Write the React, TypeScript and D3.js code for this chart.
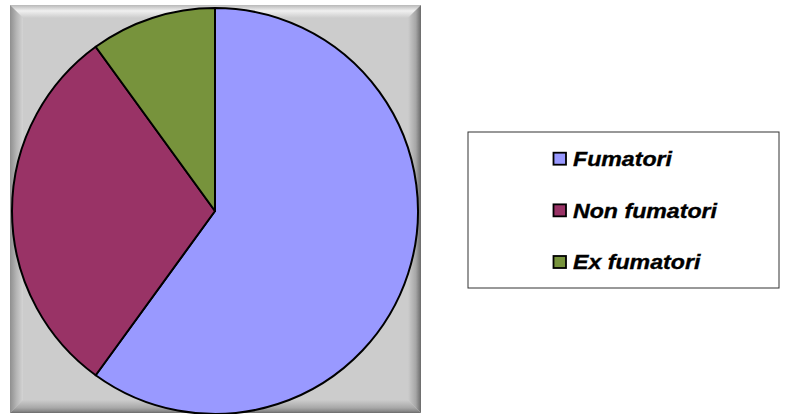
import React from "react";
import * as d3 from "d3";

const categories = ["Fumatori", "Non fumatori", "Ex fumatori"];
const values = [60, 30, 10];
const colors = ["#9999FF", "#993366", "#77933C"];

const W = 790;
const H = 414;

export default function App() {
  const box = { x0: 10, y0: 5, x1: 421, y1: 413, b: 13 };
  const cx = 215;
  const cy = 211;
  const r = 203;

  const pie = d3.pie<number>().sort(null).value((d) => d)(values);
  const arc = d3.arc<d3.PieArcDatum<number>>().innerRadius(0).outerRadius(r);

  const { x0, y0, x1, y1, b } = box;
  const legend = { x0: 468, y0: 132, x1: 779, y1: 288 };
  const legendY = d3.scalePoint<string>().domain(categories).range([158.7, 262]);

  return (
    <div style={{ position: "absolute", left: 0, top: 0 }}>
      <svg width={W} height={H} style={{ display: "block" }}>
        <defs>
          <linearGradient id="gTop" x1="0" y1="0" x2="0" y2="1">
            <stop offset="0" stopColor="#b8b8b8" />
            <stop offset="0.45" stopColor="#f0f0f0" />
            <stop offset="1" stopColor="#cccccc" />
          </linearGradient>
          <linearGradient id="gLeft" x1="0" y1="0" x2="1" y2="0">
            <stop offset="0" stopColor="#8f8f8f" />
            <stop offset="0.5" stopColor="#b5b5b5" />
            <stop offset="1" stopColor="#d4d4d4" />
          </linearGradient>
          <linearGradient id="gRight" x1="0" y1="0" x2="1" y2="0">
            <stop offset="0" stopColor="#cccccc" />
            <stop offset="0.6" stopColor="#a6a6a6" />
            <stop offset="0.85" stopColor="#808080" />
            <stop offset="1" stopColor="#6a6a6a" />
          </linearGradient>
          <linearGradient id="gBottom" x1="0" y1="0" x2="0" y2="1">
            <stop offset="0" stopColor="#cccccc" />
            <stop offset="0.6" stopColor="#a8a8a8" />
            <stop offset="0.85" stopColor="#8a8a8a" />
            <stop offset="1" stopColor="#6a6a6a" />
          </linearGradient>
        </defs>
        <rect x={0} y={0} width={W} height={H} fill="#ffffff" />
        {/* bevelled grey plot frame */}
        <rect x={x0} y={y0} width={x1 - x0} height={y1 - y0} fill="#cccccc" />
        <polygon points={`${x0},${y0} ${x1},${y0} ${x1 - b},${y0 + b} ${x0 + b},${y0 + b}`} fill="url(#gTop)" />
        <polygon points={`${x0},${y0} ${x0 + b},${y0 + b} ${x0 + b},${y1 - b} ${x0},${y1}`} fill="url(#gLeft)" />
        <polygon points={`${x1},${y0} ${x1},${y1} ${x1 - b},${y1 - b} ${x1 - b},${y0 + b}`} fill="url(#gRight)" />
        <polygon points={`${x0},${y1} ${x0 + b},${y1 - b} ${x1 - b},${y1 - b} ${x1},${y1}`} fill="url(#gBottom)" />

        {/* pie */}
        <g transform={`translate(${cx},${cy})`}>
          {pie.map((d, i) => (
            <path key={categories[i]} d={arc(d) || ""} fill={colors[i]} stroke="#000" strokeWidth={2} strokeLinejoin="round" />
          ))}
        </g>

        {/* legend */}
        <rect
          x={legend.x0}
          y={legend.y0}
          width={legend.x1 - legend.x0}
          height={legend.y1 - legend.y0}
          fill="#ffffff"
          stroke="#333"
          strokeWidth={1}
        />
        {categories.map((c, i) => {
          const y = legendY(c) as number;
          return (
            <g key={c}>
              <rect x={553.5} y={y - 6} width={12.5} height={12} fill={colors[i]} stroke="#000" strokeWidth={1.8} />
              <text
                x={0}
                y={0}
                transform={`translate(573,${y + 7.3}) scale(1.13,1)`}
                fontFamily="'Liberation Sans', Arial, sans-serif"
                fontWeight="bold"
                fontStyle="italic"
                fontSize={20.5}
                fill="#000"
                stroke="#000"
                strokeWidth={0.35}
              >
                {c}
              </text>
            </g>
          );
        })}
      </svg>
    </div>
  );
}
